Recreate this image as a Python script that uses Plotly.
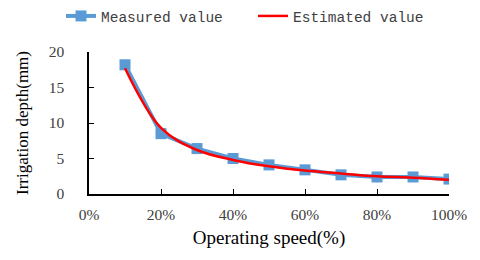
import plotly.graph_objects as go

speed = [0.1, 0.2, 0.3, 0.4, 0.5, 0.6, 0.7, 0.8, 0.9, 1.0]
measured = [18.2, 8.5, 6.4, 5.0, 4.1, 3.4, 2.7, 2.4, 2.4, 2.1]
estimated = [17.7, 9.3, 6.2, 4.8, 3.9, 3.3, 2.9, 2.5, 2.3, 2.0]

serif = "Liberation Serif"
mono = "Liberation Mono"
W, H = 472, 252

fig = go.Figure()
fig.add_trace(go.Scatter(
    x=speed, y=measured, name="Measured value", mode="lines+markers",
    line=dict(color="#5B9BD5", width=4),
    marker=dict(symbol="square", size=11, color="#5B9BD5"),
    legend="legend",
))
fig.add_trace(go.Scatter(
    x=speed, y=estimated, name="Estimated value", mode="lines",
    line=dict(color="#FF0000", width=2.5, shape="spline", smoothing=1.0),
    legend="legend2",
))

leg_common = dict(orientation="h", xref="container", xanchor="left",
                  yref="container", y=1 - 8 / H, yanchor="middle",
                  font=dict(family=mono, size=14.5, color="#404040"),
                  bgcolor="rgba(0,0,0,0)")

fig.update_layout(
    width=W, height=H,
    margin=dict(l=81, r=31, t=44, b=66, autoexpand=False),
    paper_bgcolor="white", plot_bgcolor="white",
    showlegend=True,
    legend=dict(x=53 / W, **leg_common),
    legend2=dict(x=245 / W, **leg_common),
    xaxis=dict(range=[0, 1.0], dtick=0.2, tick0=0, tickformat=".0%",
               showgrid=False, zeroline=False,
               showline=True, linecolor="black", linewidth=1.5,
               ticks="inside", ticklen=5, tickcolor="black",
               ticklabelstandoff=6,
               tickfont=dict(family=serif, size=15.5, color="#404040"),
               title=dict(text="Operating speed(%)", standoff=8,
                          font=dict(family=serif, size=19, color="black"))),
    yaxis=dict(range=[0, 20], dtick=5, showgrid=False, zeroline=False,
               showline=True, linecolor="black", linewidth=1.5,
               ticks="inside", ticklen=5, tickcolor="black",
               ticklabelstandoff=20,
               tickfont=dict(family=serif, size=15.5, color="#404040"),
               title=dict(text="Irrigation depth(mm)", standoff=16,
                          font=dict(family=serif, size=17, color="black"))),
)

fig.write_html("out.html")
